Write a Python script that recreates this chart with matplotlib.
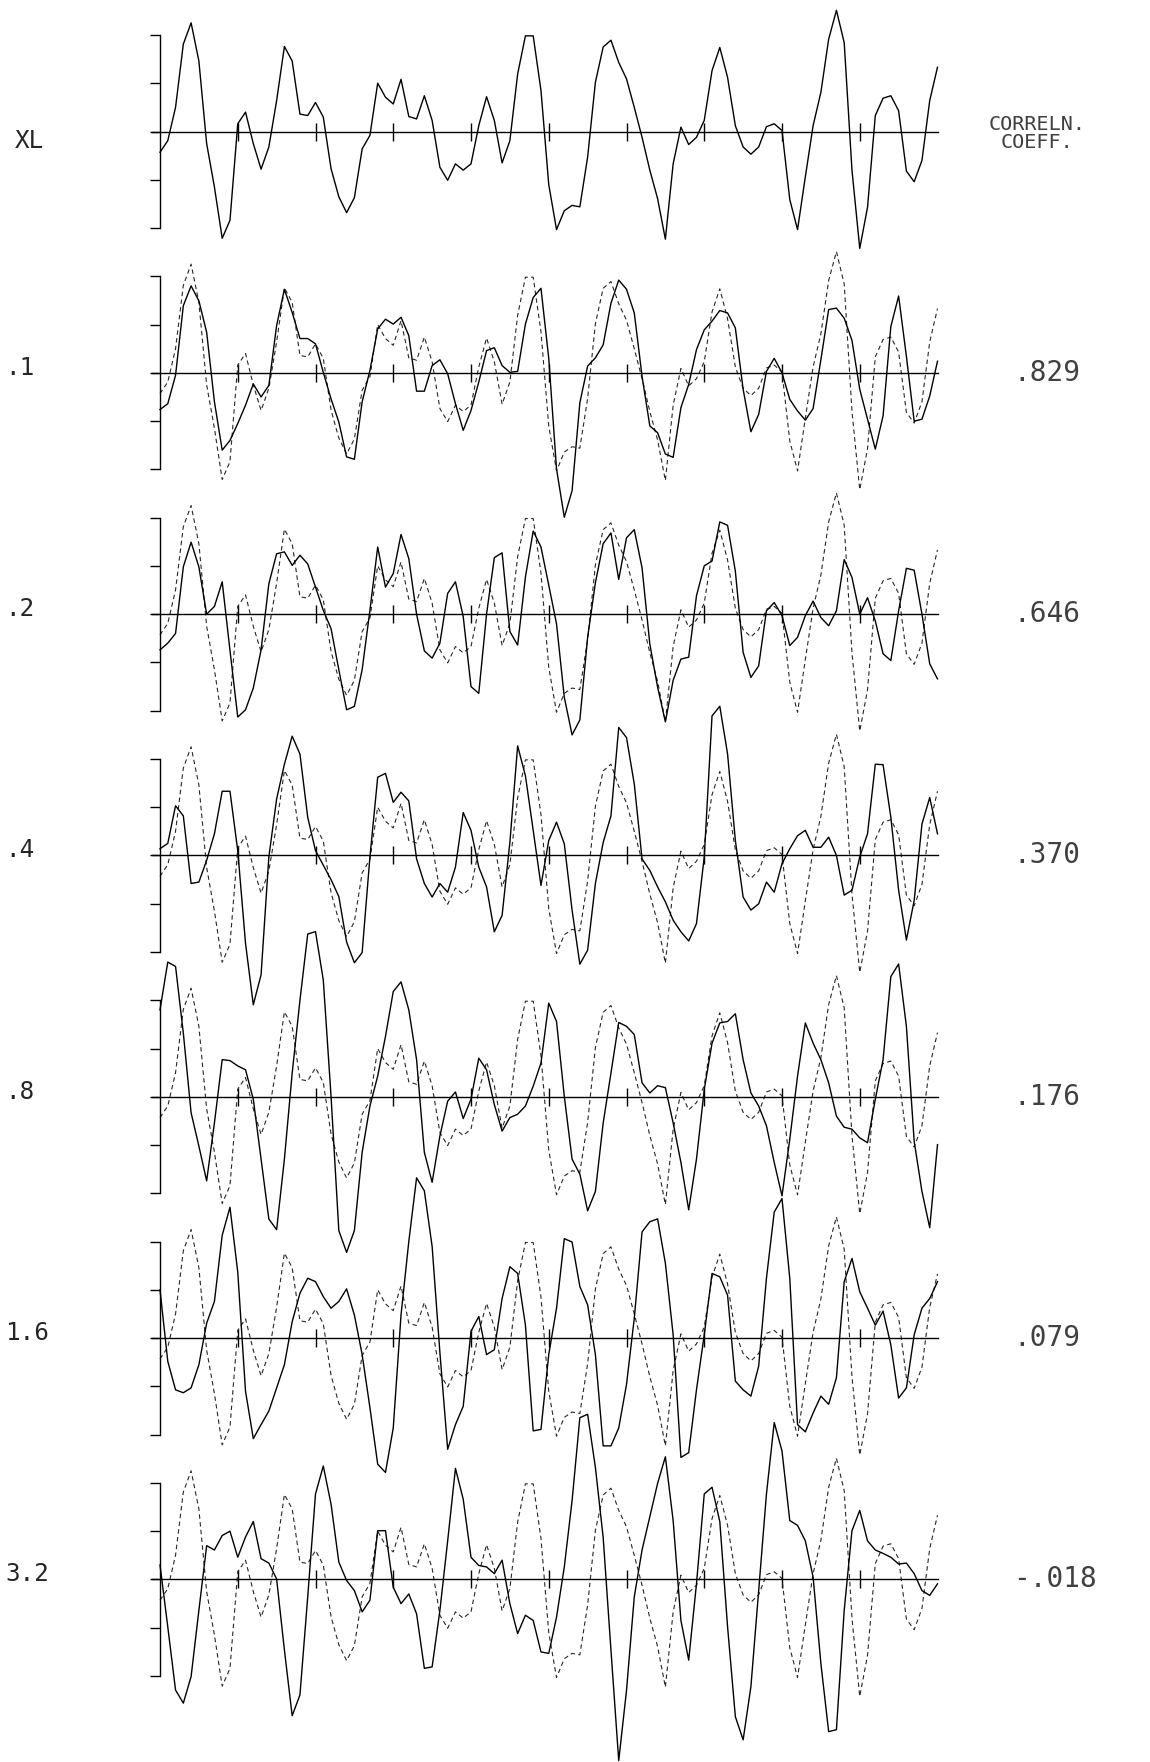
import numpy as np
import matplotlib.pyplot as plt

# reference series XL (drawn solid in the top panel, dashed in the others)
xl = [-0.43, -0.19, 0.5, 1.81, 2.25, 1.46, -0.25, -1.15, -2.21, -1.84,
      0.16, 0.4, -0.25, -0.78, -0.32, 0.64, 1.76, 1.46, 0.36, 0.33,
      0.6, 0.3, -0.77, -1.35, -1.68, -1.37, -0.36, -0.08, 1.0, 0.71,
      0.57, 1.08, 0.31, 0.26, 0.74, 0.23, -0.74, -1.01, -0.67, -0.8,
      -0.67, 0.12, 0.72, 0.23, -0.65, -0.19, 1.19, 1.98, 1.98, 0.85,
      -1.1, -2.03, -1.64, -1.53, -1.56, -0.53, 1.02, 1.75, 1.89, 1.43,
      1.09, 0.5, -0.12, -0.8, -1.39, -2.23, -0.67, 0.09, -0.27, -0.12,
      0.23, 1.26, 1.74, 1.12, 0.12, -0.32, -0.47, -0.32, 0.1, 0.16,
      0.02, -1.41, -2.03, -0.94, 0.12, 0.81, 1.91, 2.51, 1.84, -0.8,
      -2.42, -1.57, 0.33, 0.69, 0.74, 0.43, -0.82, -1.04, -0.6, 0.64,
      1.33]

s01 = [-0.76, -0.64, -0.05, 1.39, 1.8, 1.49, 0.84, -0.6, -1.6, -1.4,
       -1.05, -0.67, -0.23, -0.5, -0.26, 0.98, 1.73, 1.25, 0.71, 0.71,
       0.6, 0.01, -0.54, -1.02, -1.74, -1.79, -0.6, 0.05, 0.91, 1.11,
       1.01, 1.15, 0.77, -0.38, -0.38, 0.15, 0.27, -0.02, -0.64, -1.19,
       -0.78, -0.19, 0.46, 0.52, 0.15, 0.01, 0.03, 1.01, 1.56, 1.75,
       0.3, -1.99, -2.99, -2.44, -0.62, 0.14, 0.31, 0.58, 1.44, 1.92,
       1.73, 1.24, -0.07, -1.1, -1.24, -1.68, -1.75, -0.72, -0.24, 0.48,
       0.89, 1.07, 1.29, 1.24, 0.93, -0.34, -1.22, -0.86, 0.03, 0.3,
       0.0, -0.55, -0.79, -0.98, -0.74, 0.27, 1.31, 1.34, 1.13, 0.67,
       -0.34, -0.96, -1.58, -0.89, 0.96, 1.59, 0.34, -1.0, -0.96, -0.48,
       0.24]

s02 = [-0.74, -0.6, -0.4, 0.98, 1.49, 0.98, 0.0, 0.16, 0.67, -0.75,
       -2.13, -1.98, -1.53, -0.74, 0.63, 1.25, 1.29, 1.01, 1.22, 1.04,
       0.56, 0.08, -0.3, -1.15, -1.98, -1.91, -1.15, 0.08, 1.39, 0.56,
       0.84, 1.65, 1.15, 0.0, -0.76, -0.91, -0.6, 0.43, 0.67, -0.05,
       -1.5, -1.64, 0.0, 1.17, 1.27, -0.36, -0.64, 0.77, 1.72, 1.39,
       0.6, -0.2, -1.72, -2.5, -2.19, -0.48, 0.65, 1.46, 1.68, 0.72,
       1.58, 1.75, 0.96, -0.62, -1.51, -2.23, -1.37, -0.93, -0.89, 0.38,
       1.0, 1.1, 1.91, 1.84, 0.89, -0.79, -1.31, -1.07, 0.07, 0.24,
       -0.03, -0.65, -0.48, -0.03, 0.27, -0.07, -0.24, 0.07, 1.13, 0.76,
       0.0, 0.34, -0.14, -0.82, -0.96, 0.07, 0.95, 0.91, 0.0, -1.03,
       -1.34]

s04 = [0.14, 0.25, 1.03, 0.82, -0.58, -0.55, -0.10, 0.45, 1.33, 1.33,
       0.10, -1.82, -3.09, -2.47, -0.03, 1.17, 1.89, 2.47, 2.10, 0.79,
       0.10, -0.2, -0.5, -0.85, -1.79, -2.22, -2.01, -0.03, 1.62, 1.70,
       1.10, 1.31, 1.13, -0.07, -0.58, -0.86, -0.58, -0.76, -0.24, 0.89,
       0.52, -0.24, -0.65, -1.58, -1.24, 0.27, 2.27, 1.65, 0.52, -0.62,
       0.31, 0.69, 0.24, -1.13, -2.25, -1.96, -0.58, 0.27, 0.82, 2.65,
       2.44, 1.48, -0.07, -0.31, -0.65, -0.96, -1.34, -1.58, -1.77, -1.41,
       -0.03, 2.89, 3.09, 2.10, 0.31, -0.86, -1.13, -1.0, -0.55, -0.76,
       -0.17, 0.14, 0.41, 0.52, 0.17, 0.17, 0.38, 0.0, -0.82, -0.72,
       -0.03, 0.45, 1.89, 1.88, 0.79, -0.72, -1.75, -0.93, 0.65, 1.20,
       0.45]

s08 = [1.8, 2.79, 2.7, 1.32, -0.33, -1.02, -1.74, -0.54, 0.77, 0.75,
       0.64, 0.56, -0.05, -1.29, -2.53, -2.75, -1.29, 0.49, 2.0, 3.37,
       3.42, 2.42, 0.01, -2.77, -3.22, -2.77, -1.15, -0.19, 0.43, 1.25,
       2.18, 2.38, 1.8, 0.77, -1.15, -1.77, -0.81, -0.09, 0.1, -0.45,
       -0.05, 0.8, 0.56, -0.16, -0.71, -0.43, -0.36, -0.19, 0.22, 0.7,
       1.94, 1.56, 0.01, -1.29, -1.6, -2.36, -1.96, -0.54, 0.49, 1.54,
       1.46, 1.29, 0.29, 0.08, 0.23, 0.19, -0.54, -1.36, -2.34, -1.29,
       0.15, 1.11, 1.53, 1.56, 1.72, 0.77, 0.08, -0.19, -0.6, -1.36,
       -2.05, -0.88, 0.43, 1.53, 1.11, 0.77, 0.29, -0.4, -0.63, -0.67,
       -0.85, -0.95, -0.05, 0.77, 2.49, 2.75, 1.46, -0.92, -1.96, -2.71,
       -0.99]

s16 = [1.0, -0.48, -1.07, -1.13, -1.03, -0.55, 0.31, 0.76, 2.13, 2.71,
       1.37, -1.1, -2.08, -1.79, -1.51, -1.03, -0.55, 0.34, 0.93, 1.24,
       1.17, 0.86, 0.62, 0.76, 1.02, 0.48, -0.34, -1.44, -2.61, -2.78,
       -1.86, 0.48, 2.0, 3.32, 3.05, 1.9, -0.3, -2.3, -1.79, -1.41,
       0.14, 0.45, -0.34, -0.24, 0.82, 1.48, 1.34, 0.27, -1.92, -1.89,
       -0.34, 0.62, 2.06, 1.99, 1.07, 0.69, -0.34, -2.23, -2.23, -1.86,
       -0.96, 0.41, 2.2, 2.41, 2.47, 1.55, 0.07, -2.47, -2.37, -1.07,
       0.07, 1.34, 1.27, 0.89, -0.89, -1.07, -1.2, -0.58, 1.24, 2.61,
       2.89, 1.24, -1.79, -1.94, -1.55, -1.2, -1.37, -0.82, 1.17, 1.65,
       0.96, 0.62, 0.27, 0.56, -0.14, -1.24, -1.03, 0.07, 0.62, 0.82,
       1.17]

s32 = [0.3, -0.98, -2.29, -2.56, -2.01, -0.64, 0.7, 0.61, 0.91, 1.0,
       0.46, 0.88, 1.2, 0.43, 0.34, 0.01, -1.46, -2.82, -2.39, -0.36,
       1.77, 2.35, 1.56, 0.36, -0.02, -0.23, -0.67, -0.43, 1.01, 1.01,
       -0.16, -0.5, -0.3, -0.71, -1.84, -1.81, -0.64, 0.8, 2.3, 1.66,
       0.46, 0.29, 0.26, 0.12, 0.4, -0.5, -1.12, -0.74, -0.85, -1.5,
       -1.53, -0.78, 0.26, 1.63, 3.35, 3.42, 2.32, 0.87, -1.46, -3.75,
       -2.3, -0.36, 0.61, 1.3, 1.99, 2.54, 1.22, -0.85, -1.67, -0.09,
       1.77, 1.91, 1.2, -0.98, -2.84, -3.32, -2.22, -0.23, 1.77, 3.25,
       2.66, 1.22, 1.12, 0.8, 0.05, -1.74, -3.15, -3.11, -0.64, 1.01,
       1.43, 0.8, 0.61, 0.54, 0.46, 0.32, 0.34, 0.12, -0.23, -0.33,
       -0.09]

row_labels = ['XL', '.1', '.2', '.4', '.8', '1.6', '3.2']
coeffs = ['', '.829', '.646', '.370', '.176', '.079', '-.018']
series = [xl, s01, s02, s04, s08, s16, s32]

W, H = 1150, 1762
fig = plt.figure(figsize=(W/100, H/100), dpi=100)
font = 'DejaVu Sans Mono'

idx = np.arange(len(xl))
x0, dx = 160, 7.775      # pixel of first sample, pixels per sample
unit = 48.3              # pixels per y unit
span = 2.4

for k in range(7):
    z = 131.5 + 241.33*k
    ax = fig.add_axes([0, 1 - (z + span*unit)/H, 1, 2*span*unit/H])
    ax.set_xlim(-x0/dx, (W - x0)/dx)
    ax.set_ylim(-span, span)
    ax.patch.set_visible(False)
    ax.spines['top'].set_visible(False)
    ax.spines['right'].set_visible(False)
    ax.spines['left'].set_position(('data', 0))
    ax.spines['left'].set_bounds(-2, 2)
    ax.spines['bottom'].set_position(('data', 0))
    ax.spines['bottom'].set_bounds(-1, 100)
    ax.spines['left'].set_linewidth(1.0)
    ax.spines['bottom'].set_linewidth(1.0)
    ax.set_yticks([-2, -1, 0, 1, 2])
    ax.set_xticks(range(10, 100, 10))
    ax.tick_params(axis='y', direction='out', length=7, width=1,
                   labelleft=False)
    ax.tick_params(axis='x', direction='inout', length=13, width=1,
                   labelbottom=False)

    if k > 0:
        ax.plot(idx, xl, color='0.15', lw=0.8, dashes=(4, 3), clip_on=False)
    ax.plot(idx, series[k], color='k', lw=1.0, clip_on=False)

    ly = z + 9 if k == 0 else z - 5
    fig.text((15 if k == 0 else 5)/W, 1 - ly/H, row_labels[k], family=font,
             fontsize=17.5, ha='left', va='center', color='0.15')
    if coeffs[k]:
        fig.text(1013/W, 1 - z/H, coeffs[k], family=font, fontsize=20,
                 ha='left', va='center', color='0.25')

fig.text(1037/W, 1 - 124/H, 'CORRELN.', family=font, fontsize=14.5,
         ha='center', va='center', color='0.25')
fig.text(1037/W, 1 - 143/H, 'COEFF.', family=font, fontsize=14.5,
         ha='center', va='center', color='0.25')

fig.savefig('out.png', dpi=100)
